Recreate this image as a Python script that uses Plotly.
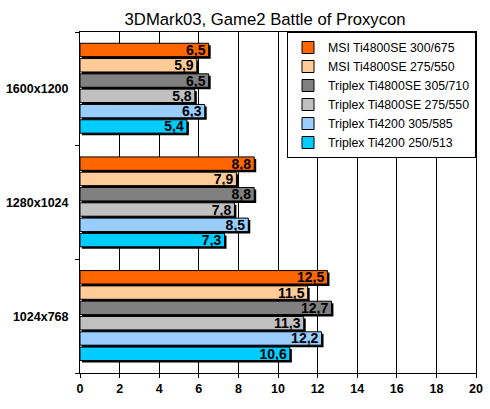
import plotly.graph_objects as go

# resolutions, bottom to top as they sit on the axis
resolutions = ["1024x768", "1280x1024", "1600x1200"]

cards = [
    "MSI Ti4800SE 300/675",
    "MSI Ti4800SE 275/550",
    "Triplex Ti4800SE 305/710",
    "Triplex Ti4800SE 275/550",
    "Triplex Ti4200 305/585",
    "Triplex Ti4200 250/513",
]

# fps per card, same order as resolutions
msi_300 = [12.5, 8.8, 6.5]
msi_275 = [11.5, 7.9, 5.9]
triplex_4800_305 = [12.7, 8.8, 6.5]
triplex_4800_275 = [11.3, 7.8, 5.8]
triplex_4200_305 = [12.2, 8.5, 6.3]
triplex_4200_250 = [10.6, 7.3, 5.4]

series = [msi_300, msi_275, triplex_4800_305, triplex_4800_275,
          triplex_4200_305, triplex_4200_250]
colors = ["#FF6600", "#FFCC99", "#808080", "#C0C0C0", "#99CCFF", "#00CCFF"]

x_ticks = list(range(0, 21, 2))

pos = list(range(len(resolutions)))
bar_w = 0.118
pitch = 0.1346
top = 0.401

fig = go.Figure()

# drop shadows first so the bars sit on top of them
for i, vals in enumerate(series):
    fig.add_trace(go.Bar(
        y=pos, x=vals, base=0.1, orientation="h",
        width=bar_w, offset=top - i * pitch - bar_w - 0.0176,
        marker=dict(color="black", line=dict(width=0)),
        showlegend=False, hoverinfo="skip",
    ))

for i, (name, vals) in enumerate(zip(cards, series)):
    fig.add_trace(go.Bar(
        y=pos, x=vals, name=name, orientation="h",
        width=bar_w, offset=top - i * pitch - bar_w,
        marker=dict(color=colors[i], line=dict(color="black", width=1)),
        texttemplate="%{x:.1f}", textposition="inside",
        insidetextanchor="end", constraintext="none",
        textfont=dict(family="Liberation Sans", size=14, color="black",
                      weight="bold"),
    ))

fig.update_layout(
    width=490, height=409,
    margin=dict(l=80, r=14, t=32, b=36),
    paper_bgcolor="white", plot_bgcolor="white",
    barmode="overlay",
    separators=",.",
    font=dict(family="Liberation Sans", color="black"),
    title=dict(text="3DMark03, Game2 Battle of Proxycon",
               x=0.541, xanchor="center", y=0.952, yanchor="middle",
               font=dict(size=16.7), automargin=False),
    legend=dict(
        x=1, xanchor="right", y=1, yanchor="top",
        bgcolor="white", bordercolor="black", borderwidth=1,
        font=dict(size=12.3), itemwidth=30, tracegroupgap=0,
    ),
    xaxis=dict(
        range=[0, 20], tickvals=x_ticks,
        showgrid=True, gridcolor="black", gridwidth=1,
        showline=True, linecolor="black", linewidth=1, mirror=True,
        ticks="outside", ticklen=4, tickcolor="black",
        tickfont=dict(size=12.5, weight="bold"),
        zeroline=False, fixedrange=True, automargin=False,
    ),
    yaxis=dict(
        range=[-0.5, 2.5], tickvals=pos, ticktext=resolutions,
        showgrid=False, zeroline=False,
        showline=True, linecolor="black", linewidth=1, mirror=True,
        ticks="", tickfont=dict(size=12.5, weight="bold"),
        ticklabelstandoff=8,
        minor=dict(tickvals=[-0.5, 0.5, 1.5, 2.5], ticks="outside",
                   ticklen=4, tickcolor="black", showgrid=False),
        fixedrange=True, automargin=False,
    ),
)

# page body has a default 8px margin, drop it so the figure fills the window
fig.write_html("out.html", config=dict(displayModeBar=False),
               post_script="document.body.style.margin='0';")
